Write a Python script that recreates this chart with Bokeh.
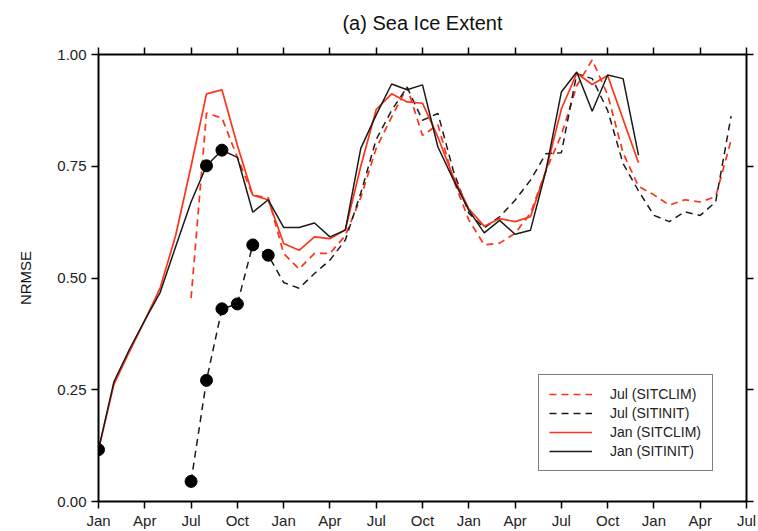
from bokeh.plotting import figure
from bokeh.models import (Range1d, LinearAxis, FixedTicker, Legend, LegendItem,
                          NumeralTickFormatter, CustomLabelingPolicy)
from bokeh.embed import file_html
from bokeh.resources import INLINE

# ---------------- data ----------------
# month index: 0 = Jan of year 1
tick_months = [0, 3, 6, 9, 12, 15, 18, 21, 24, 27, 30, 33, 36, 39, 42]
tick_labels = ["Jan", "Apr", "Jul", "Oct", "Jan", "Apr", "Jul", "Oct",
               "Jan", "Apr", "Jul", "Oct", "Jan", "Apr", "Jul"]

jan_months = list(range(0, 36))   # January-start forecasts
jul_months = list(range(6, 42))   # July-start forecasts

jan_sitclim = [0.116, 0.262, 0.335, 0.405, 0.478, 0.595, 0.750, 0.912, 0.921, 0.797,
               0.685, 0.675, 0.577, 0.562, 0.592, 0.588, 0.608, 0.750, 0.877, 0.912,
               0.894, 0.891, 0.815, 0.726, 0.655, 0.616, 0.633, 0.626, 0.637, 0.740,
               0.878, 0.958, 0.933, 0.953, 0.855, 0.758]
jan_sitinit = [0.116, 0.268, 0.340, 0.405, 0.468, 0.570, 0.670, 0.751, 0.786, 0.770,
               0.647, 0.675, 0.613, 0.613, 0.623, 0.592, 0.607, 0.790, 0.865, 0.934,
               0.921, 0.932, 0.793, 0.720, 0.652, 0.601, 0.629, 0.598, 0.607, 0.740,
               0.916, 0.961, 0.873, 0.954, 0.946, 0.775]
jul_sitclim = [0.455, 0.869, 0.858, 0.770, 0.685, 0.680, 0.555, 0.520, 0.555, 0.555,
               0.595, 0.680, 0.790, 0.860, 0.927, 0.819, 0.843, 0.720, 0.630, 0.574,
               0.578, 0.600, 0.645, 0.740, 0.820, 0.930, 0.988, 0.910, 0.780, 0.705,
               0.686, 0.663, 0.675, 0.670, 0.682, 0.808]
jul_sitinit = [0.045, 0.271, 0.431, 0.442, 0.574, 0.551, 0.490, 0.477, 0.510, 0.540,
               0.585, 0.690, 0.810, 0.875, 0.927, 0.853, 0.868, 0.740, 0.645, 0.612,
               0.637, 0.674, 0.719, 0.778, 0.780, 0.957, 0.946, 0.875, 0.756, 0.695,
               0.640, 0.626, 0.648, 0.640, 0.670, 0.862]

# points marked with filled circles (indices into the series)
jan_sig_idx = [0, 7, 8]
jul_sig_idx = [0, 1, 2, 3, 4, 5]

RED = "#ff3319"
BLACK = "#1a1a1a"
FONT = "Liberation Sans"

p = figure(width=758, height=531, x_range=Range1d(0, 42), y_range=Range1d(0, 1),
           output_backend="svg", toolbar_location=None,
           min_border_left=98, min_border_right=11, min_border_top=54,
           min_border_bottom=29, title="(a) Sea Ice Extent")

p.title.align = "center"
p.title.text_font = FONT
p.title.text_font_size = "20px"
p.title.text_font_style = "normal"
p.title.text_color = "#111111"
p.title.standoff = 19

p.outline_line_color = None
p.xgrid.visible = False
p.ygrid.visible = False

def style_axis(ax):
    ax.axis_line_width = 2
    ax.axis_line_color = "black"
    ax.major_tick_line_width = 1.5
    ax.major_tick_line_color = "black"
    ax.major_tick_out = 7
    ax.major_tick_in = 0
    ax.minor_tick_line_color = None
    ax.major_label_text_font = FONT
    ax.major_label_text_font_size = "15px"
    ax.major_label_text_color = "#222222"

xt = FixedTicker(ticks=tick_months)
yt = FixedTicker(ticks=[0, 0.25, 0.5, 0.75, 1.0])

xa = p.xaxis[0]
xa.ticker = xt
xa.major_label_overrides = {m: lab for m, lab in zip(tick_months, tick_labels)}
style_axis(xa)
xa.major_label_standoff = 3

ya = p.yaxis[0]
ya.ticker = yt
ya.formatter = NumeralTickFormatter(format="0.00")
style_axis(ya)
ya.major_label_standoff = 5
ya.axis_label = "NRMSE"
ya.axis_label_text_font = FONT
ya.axis_label_text_font_size = "15px"
ya.axis_label_text_font_style = "normal"
ya.axis_label_text_color = "#111111"
ya.axis_label_standoff = 20

top = LinearAxis(ticker=xt)
style_axis(top)
top.major_label_policy = CustomLabelingPolicy(code="return new Set()")
top.major_label_text_font_size = "1px"
top.major_label_standoff = 0
p.add_layout(top, "above")

right = LinearAxis(ticker=yt)
style_axis(right)
right.major_label_policy = CustomLabelingPolicy(code="return new Set()")
right.major_label_text_font_size = "1px"
right.major_label_standoff = 0
p.add_layout(right, "right")

dash = "7 5"
r_jul_clim = p.line(jul_months, jul_sitclim, line_color=RED, line_width=1.7, line_dash=dash)
r_jul_init = p.line(jul_months, jul_sitinit, line_color=BLACK, line_width=1.5, line_dash=dash)
r_jan_clim = p.line(jan_months, jan_sitclim, line_color=RED, line_width=1.7)
r_jan_init = p.line(jan_months, jan_sitinit, line_color=BLACK, line_width=1.5)

p.scatter([jan_months[i] for i in jan_sig_idx], [jan_sitinit[i] for i in jan_sig_idx],
          size=12, color="black")
p.scatter([jul_months[i] for i in jul_sig_idx], [jul_sitinit[i] for i in jul_sig_idx],
          size=12, color="black")

legend = Legend(items=[
    LegendItem(label="Jul (SITCLIM)", renderers=[r_jul_clim]),
    LegendItem(label="Jul (SITINIT)", renderers=[r_jul_init]),
    LegendItem(label="Jan (SITCLIM)", renderers=[r_jan_clim]),
    LegendItem(label="Jan (SITINIT)", renderers=[r_jan_init]),
], location=(440, 30))
legend.label_text_font = FONT
legend.label_text_font_size = "14px"
legend.label_text_color = "#222222"
legend.glyph_width = 43
legend.glyph_height = 18
legend.label_height = 18
legend.label_standoff = 18
legend.label_width = 92
legend.spacing = 1
legend.padding = 10
legend.border_line_color = "black"
legend.border_line_width = 1.5
legend.background_fill_alpha = 1
p.add_layout(legend, "center")

open("out.html", "w").write(file_html(p, INLINE))
